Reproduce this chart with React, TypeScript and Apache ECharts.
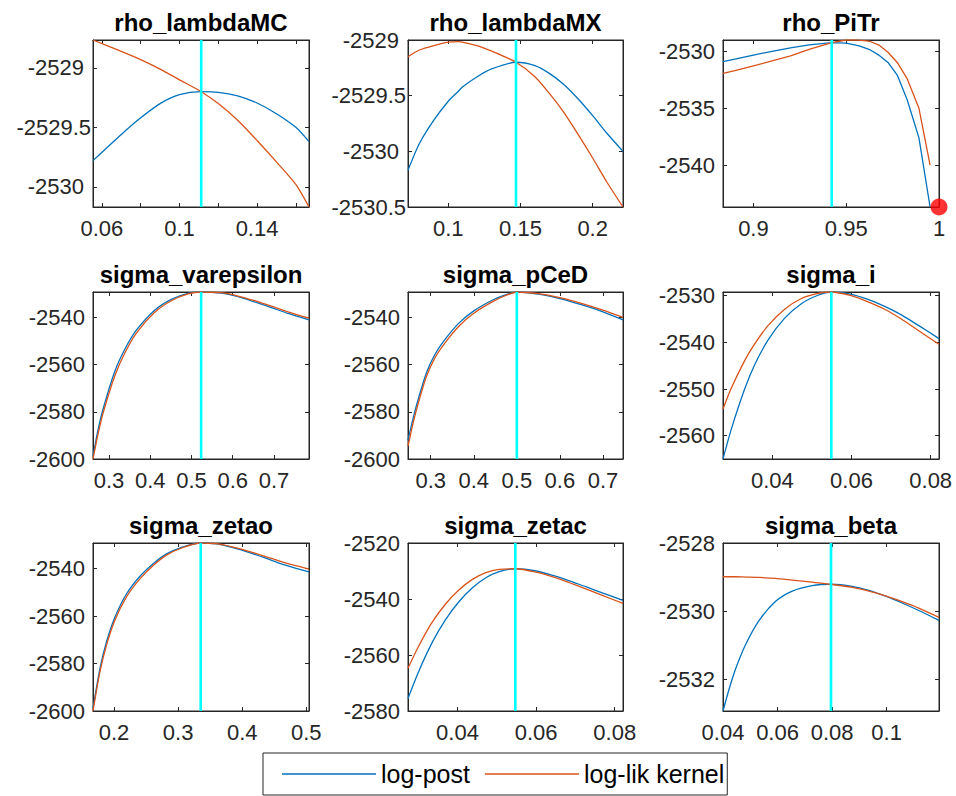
import React, { useEffect, useRef } from "react";
import * as echarts from "echarts";

const FONT = '"Liberation Sans", Arial, Helvetica, sans-serif';
const BLUE = "#0072BD";
const RED = "#D95319";
const CYAN = "#00FFFF";
const AXIS = "#262626";

const titles = [
  "rho_lambdaMC", "rho_lambdaMX", "rho_PiTr",
  "sigma_varepsilon", "sigma_pCeD", "sigma_i",
  "sigma_zetao", "sigma_zetac", "sigma_beta",
];

// rho_lambdaMC
const rhoLambdaMC_x = [0.0554, 0.07, 0.08, 0.09, 0.1, 0.1112, 0.12, 0.13, 0.14, 0.15, 0.16, 0.1668];
const rhoLambdaMC_post = [-2529.78, -2529.56, -2529.42, -2529.3, -2529.225, -2529.2, -2529.205, -2529.235, -2529.295, -2529.385, -2529.5, -2529.62];
const rhoLambdaMC_lik = [-2528.765, -2528.86, -2528.93, -2529.01, -2529.1, -2529.2, -2529.3, -2529.44, -2529.61, -2529.79, -2529.98, -2530.17];

// rho_lambdaMX
const rhoLambdaMX_x = [0.0721, 0.08, 0.09, 0.1, 0.107, 0.11, 0.12, 0.13, 0.1469, 0.16, 0.17, 0.18, 0.19, 0.2, 0.21, 0.221];
const rhoLambdaMX_post = [-2530.17, -2529.93, -2529.72, -2529.55, -2529.46, -2529.42, -2529.33, -2529.26, -2529.2, -2529.23, -2529.3, -2529.4, -2529.53, -2529.68, -2529.84, -2530.0];
const rhoLambdaMX_lik = [-2529.15, -2529.09, -2529.05, -2529.02, -2529.015, -2529.02, -2529.05, -2529.1, -2529.2, -2529.33, -2529.48, -2529.65, -2529.85, -2530.06, -2530.28, -2530.5];

// rho_PiTr
const rhoPiTr_x = [0.8836, 0.89, 0.9, 0.91, 0.92, 0.93, 0.9422, 0.95, 0.957, 0.963, 0.968, 0.9725, 0.9775, 0.9829, 0.9892, 0.9952];
const rhoPiTr_post = [-2530.88, -2530.66, -2530.3, -2529.97, -2529.66, -2529.4, -2529.2, -2529.25, -2529.48, -2529.85, -2530.35, -2530.95, -2532.06, -2534.26, -2537.6, -2543.7];
const rhoPiTr_lik = [-2531.91, -2531.68, -2531.25, -2530.82, -2530.38, -2529.8, -2529.2, -2528.97, -2528.98, -2529.1, -2529.45, -2530.05, -2530.95, -2532.4, -2535.0, -2540.0];
const rhoPiTr_bound = [1.0, -2543.7];

// sigma_varepsilon
const sigmaVarepsilon_x = [0.2612, 0.273, 0.2855, 0.3137, 0.338, 0.3663, 0.4107, 0.4511, 0.4915, 0.5234, 0.5723, 0.6127, 0.6531, 0.6935, 0.734, 0.7849];
const sigmaVarepsilon_post = [-2598.9, -2588.0, -2578.9, -2563.0, -2553.6, -2545.4, -2536.9, -2532.3, -2529.8, -2529.2, -2529.7, -2531.2, -2533.4, -2535.8, -2538.3, -2541.0];
const sigmaVarepsilon_lik = [-2600.0, -2589.8, -2580.6, -2564.9, -2555.2, -2546.6, -2537.8, -2532.9, -2530.0, -2529.2, -2529.5, -2530.9, -2532.9, -2535.2, -2537.6, -2540.3];

// sigma_pCeD
const sigmaPCeD_x = [0.2472, 0.26, 0.2728, 0.29, 0.31, 0.335, 0.366, 0.4, 0.4437, 0.47, 0.5, 0.55, 0.6, 0.65, 0.7, 0.7466];
const sigmaPCeD_post = [-2592.0, -2582.0, -2573.5, -2563.4, -2555.6, -2548.9, -2542.3, -2537.2, -2532.6, -2530.6, -2529.2, -2530.1, -2532.0, -2534.6, -2537.6, -2541.0];
const sigmaPCeD_lik = [-2594.5, -2584.0, -2575.2, -2565.0, -2557.0, -2550.3, -2543.6, -2538.2, -2533.3, -2531.0, -2529.2, -2529.9, -2531.6, -2534.0, -2536.9, -2540.0];

// sigma_i
const sigmaI_x = [0.02754, 0.02964, 0.03301, 0.03554, 0.03891, 0.04312, 0.04733, 0.05154, 0.0549, 0.05996, 0.06417, 0.06838, 0.07259, 0.0768, 0.0821];
const sigmaI_post = [-2565.0, -2558.6, -2550.0, -2544.8, -2539.5, -2534.8, -2531.7, -2529.9, -2529.2, -2529.7, -2530.8, -2532.3, -2534.1, -2536.3, -2539.2];
const sigmaI_lik = [-2554.3, -2549.8, -2543.9, -2540.3, -2536.4, -2532.9, -2530.6, -2529.5, -2529.2, -2530.0, -2531.3, -2532.9, -2535.0, -2537.4, -2540.4];

// sigma_zetao
const sigmaZetao_x = [0.1673, 0.1782, 0.1886, 0.2016, 0.2197, 0.2405, 0.2612, 0.282, 0.3079, 0.3353, 0.3598, 0.3858, 0.4117, 0.4377, 0.4636, 0.5041];
const sigmaZetao_post = [-2598.9, -2582.0, -2570.6, -2560.4, -2550.6, -2543.2, -2537.9, -2533.8, -2530.8, -2529.2, -2529.6, -2531.2, -2533.3, -2535.7, -2538.2, -2541.4];
const sigmaZetao_lik = [-2600.0, -2583.4, -2572.0, -2561.6, -2551.8, -2544.3, -2538.7, -2534.3, -2531.1, -2529.2, -2529.5, -2530.9, -2532.8, -2535.0, -2537.3, -2540.2];

// sigma_zetac
const sigmaZetac_x = [0.0274, 0.0302, 0.0336, 0.037, 0.0404, 0.0438, 0.0472, 0.0506, 0.0547, 0.06, 0.0643, 0.0685, 0.0728, 0.077, 0.0821];
const sigmaZetac_post = [-2575.5, -2565.6, -2555.4, -2547.3, -2540.9, -2536.0, -2532.4, -2530.2, -2529.2, -2530.0, -2531.6, -2533.5, -2535.7, -2537.9, -2540.5];
const sigmaZetac_lik = [-2564.7, -2556.6, -2548.2, -2541.7, -2536.7, -2533.0, -2530.6, -2529.4, -2529.2, -2530.4, -2532.1, -2534.2, -2536.5, -2538.8, -2541.6];

// sigma_beta
const sigmaBeta_x = [0.04, 0.0422, 0.0446, 0.0483, 0.0532, 0.0593, 0.0654, 0.0727, 0.0796, 0.0874, 0.0935, 0.0996, 0.1057, 0.1118, 0.1192];
const sigmaBeta_post = [-2532.93, -2532.3, -2531.7, -2530.98, -2530.28, -2529.71, -2529.41, -2529.25, -2529.21, -2529.27, -2529.39, -2529.56, -2529.76, -2529.98, -2530.27];
const sigmaBeta_lik = [-2528.99, -2528.99, -2528.99, -2529.0, -2529.01, -2529.04, -2529.09, -2529.15, -2529.21, -2529.3, -2529.41, -2529.55, -2529.72, -2529.91, -2530.18];

const xs = [rhoLambdaMC_x, rhoLambdaMX_x, rhoPiTr_x, sigmaVarepsilon_x, sigmaPCeD_x, sigmaI_x, sigmaZetao_x, sigmaZetac_x, sigmaBeta_x];
const posts = [rhoLambdaMC_post, rhoLambdaMX_post, rhoPiTr_post, sigmaVarepsilon_post, sigmaPCeD_post, sigmaI_post, sigmaZetao_post, sigmaZetac_post, sigmaBeta_post];
const liks = [rhoLambdaMC_lik, rhoLambdaMX_lik, rhoPiTr_lik, sigmaVarepsilon_lik, sigmaPCeD_lik, sigmaI_lik, sigmaZetao_lik, sigmaZetac_lik, sigmaBeta_lik];

const modes = [0.1112, 0.1469, 0.9422, 0.5234, 0.5, 0.0549, 0.3353, 0.0547, 0.0796];

const xLimits = [
  [0.0554, 0.1668], [0.0721, 0.221], [0.8836, 1.0],
  [0.2612, 0.7849], [0.2472, 0.7466], [0.02754, 0.0821],
  [0.1673, 0.5042], [0.0274, 0.0821], [0.04, 0.1192],
];
const yLimits = [
  [-2530.17, -2528.765], [-2530.5, -2529.0], [-2543.7, -2528.97],
  [-2600, -2529.2], [-2600, -2529.2], [-2565.0, -2529.2],
  [-2600, -2529.2], [-2580, -2520], [-2532.93, -2528],
];

const xTicks = [
  [0.06, 0.08, 0.1, 0.12, 0.14, 0.16], [0.1, 0.15, 0.2], [0.9, 0.95, 1],
  [0.3, 0.4, 0.5, 0.6, 0.7], [0.3, 0.4, 0.5, 0.6, 0.7], [0.04, 0.06, 0.08],
  [0.2, 0.3, 0.4, 0.5], [0.04, 0.06, 0.08], [0.04, 0.06, 0.08, 0.1],
];
const xTickLabels = [
  [0.06, 0.1, 0.14], [0.1, 0.15, 0.2], [0.9, 0.95, 1],
  [0.3, 0.4, 0.5, 0.6, 0.7], [0.3, 0.4, 0.5, 0.6, 0.7], [0.04, 0.06, 0.08],
  [0.2, 0.3, 0.4, 0.5], [0.04, 0.06, 0.08], [0.04, 0.06, 0.08, 0.1],
];
const yTicks = [
  [-2530, -2529.5, -2529], [-2530.5, -2530, -2529.5, -2529], [-2540, -2535, -2530],
  [-2600, -2580, -2560, -2540], [-2600, -2580, -2560, -2540], [-2560, -2550, -2540, -2530],
  [-2600, -2580, -2560, -2540], [-2580, -2560, -2540, -2520], [-2532, -2530, -2528],
];

const legendNames = ["log-post", "log-lik kernel"];

// layout (pixels)
const colLeft = [93, 408, 723];
const colWidth = [216, 215, 216];
const rowTop = [40, 292, 543];
const rowHeight = [167, 167, 168];

function buildOption() {
  const grid: any[] = [];
  const xAxis: any[] = [];
  const yAxis: any[] = [];
  const series: any[] = [];
  const graphic: any[] = [];
  const fmt = (v: number) => String(v);
  const labelText = { color: AXIS, fontSize: 22, fontFamily: FONT };

  for (let i = 0; i < 9; i++) {
    const r = Math.floor(i / 3);
    const c = i % 3;
    grid.push({
      left: colLeft[c], top: rowTop[r], width: colWidth[c], height: rowHeight[r],
      show: true, borderColor: AXIS, borderWidth: 1, backgroundColor: "#fff",
      containLabel: false,
    });
    const axisLine = { show: true, onZero: false, lineStyle: { color: AXIS, width: 1 } };
    const tickStyle = { color: AXIS, width: 1 };
    const hasDecimals = yTicks[i].some((v) => !Number.isInteger(v));
    xAxis.push({
      type: "value", gridIndex: i, position: "bottom", min: xLimits[i][0], max: xLimits[i][1],
      axisLine,
      axisTick: { show: true, inside: true, length: 4, customValues: xTicks[i], lineStyle: tickStyle },
      axisLabel: { show: true, customValues: xTickLabels[i], formatter: fmt, ...labelText, margin: 10 },
      splitLine: { show: false },
    });
    xAxis.push({
      type: "value", gridIndex: i, position: "top", min: xLimits[i][0], max: xLimits[i][1],
      axisLine,
      axisTick: { show: true, inside: true, length: 4, customValues: xTicks[i], lineStyle: tickStyle },
      axisLabel: { show: false },
      splitLine: { show: false },
    });
    yAxis.push({
      type: "value", gridIndex: i, position: "left", min: yLimits[i][0], max: yLimits[i][1],
      axisLine,
      axisTick: { show: true, inside: true, length: 4, customValues: yTicks[i], lineStyle: tickStyle },
      axisLabel: hasDecimals
        ? {
            show: true, customValues: yTicks[i], ...labelText, margin: 2,
            formatter: (v: number) => (Number.isInteger(v) ? `{p|${v}}` : `{n|${v}}`),
            rich: {
              p: { ...labelText, padding: [0, 7, 0, 0] },
              n: { ...labelText },
            },
          }
        : { show: true, customValues: yTicks[i], formatter: fmt, ...labelText, margin: 8 },
      splitLine: { show: false },
    });
    yAxis.push({
      type: "value", gridIndex: i, position: "right", min: yLimits[i][0], max: yLimits[i][1],
      axisLine,
      axisTick: { show: true, inside: true, length: 4, customValues: yTicks[i], lineStyle: tickStyle },
      axisLabel: { show: false },
      splitLine: { show: false },
    });

    const smooth = i === 2 ? false : 0.25;
    series.push({
      type: "line", name: legendNames[0], xAxisIndex: 2 * i, yAxisIndex: 2 * i,
      data: xs[i].map((x, k) => [x, posts[i][k]]),
      symbol: "none", showSymbol: false, smooth,
      lineStyle: { color: BLUE, width: 1.3 }, itemStyle: { color: BLUE }, z: 3,
    });
    series.push({
      type: "line", name: legendNames[1], xAxisIndex: 2 * i, yAxisIndex: 2 * i,
      data: xs[i].map((x, k) => [x, liks[i][k]]),
      symbol: "none", showSymbol: false, smooth,
      lineStyle: { color: RED, width: 1.3 }, itemStyle: { color: RED }, z: 3,
    });
    series.push({
      type: "line", name: "mode", xAxisIndex: 2 * i, yAxisIndex: 2 * i,
      data: [[modes[i], yLimits[i][0]], [modes[i], yLimits[i][1]]],
      symbol: "none", lineStyle: { color: CYAN, width: 2.6 }, itemStyle: { color: CYAN }, z: 4,
    });

    graphic.push({
      type: "text", x: colLeft[c] + colWidth[c] / 2, y: rowTop[r] - 18,
      style: {
        text: titles[i], fill: "#000", font: `bold 24px ${FONT}`,
        textAlign: "center", textVerticalAlign: "middle",
      },
    });
  }

  series.push({
    type: "scatter", name: "bound", xAxisIndex: 4, yAxisIndex: 4,
    data: [rhoPiTr_bound], symbol: "circle", symbolSize: 17, clip: false,
    itemStyle: { color: "#FF0000" }, z: 5,
  });

  return {
    animation: false,
    backgroundColor: "#fff",
    grid, xAxis, yAxis, series, graphic,
    legend: {
      data: legendNames.map((n) => ({ name: n, icon: "rect" })),
      left: 263, top: 753, orient: "horizontal",
      itemWidth: 94, itemHeight: 1.5, itemGap: 15,
      padding: [8, 3, 8, 19],
      borderColor: AXIS, borderWidth: 1, backgroundColor: "#fff",
      textStyle: { fontSize: 25, color: "#000", fontFamily: FONT, lineHeight: 26 },
      selectedMode: false,
    },
  };
}

export default function App() {
  const ref = useRef<HTMLDivElement>(null);
  useEffect(() => {
    document.body.style.margin = "0";
    const chart = echarts.init(ref.current!, null, { renderer: "svg" });
    chart.setOption(buildOption() as any);
    return () => chart.dispose();
  }, []);
  return <div ref={ref} style={{ width: 956, height: 796 }} />;
}
